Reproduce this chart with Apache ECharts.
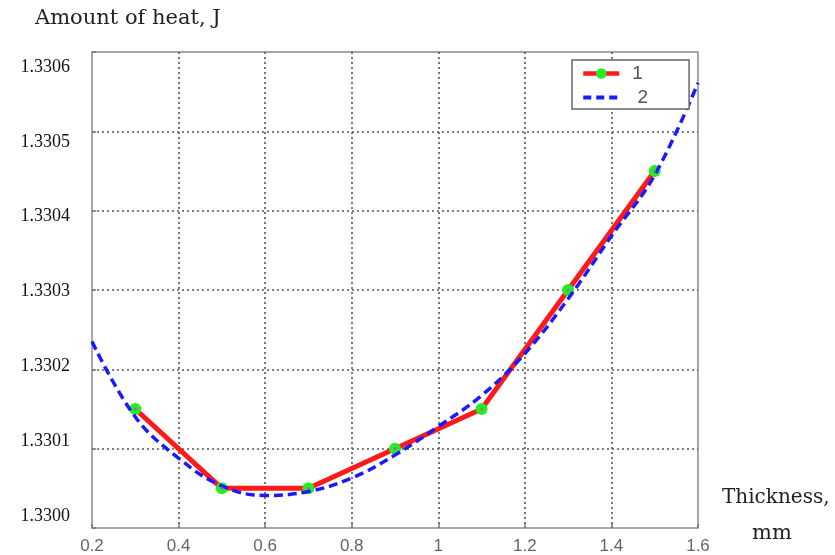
<!DOCTYPE html>
<html>
<head>
<meta charset="utf-8">
<script src="https://cdn.jsdelivr.net/npm/echarts@6/dist/echarts.min.js"></script>
<style>
  html, body { margin: 0; padding: 0; background: #fff; }
  #chart { width: 835px; height: 555px; }
</style>
</head>
<body>
<div id="chart"></div>
<script>
// measured points (series 1)
var thickness1 = [0.3, 0.5, 0.7, 0.9, 1.1, 1.3, 1.5];
var heat1 = [1.33015, 1.33005, 1.33005, 1.3301, 1.33015, 1.3303, 1.33045];

// fitted curve (series 2)
var thickness2 = [0.2, 0.3, 0.4, 0.5, 0.6, 0.7, 0.8, 0.9, 1.0, 1.1, 1.2, 1.3, 1.4, 1.5, 1.6];
var heat2 = [1.330235, 1.33014, 1.330088, 1.330053, 1.330041, 1.330046, 1.330063, 1.330092,
             1.330128, 1.330167, 1.33022, 1.330289, 1.330368, 1.330445, 1.330561];

// y tick labels
var yTicks = [1.3300, 1.3301, 1.3302, 1.3303, 1.3304, 1.3305, 1.3306];

var seriesNames = ['1', ' 2'];

function pairs(xs, ys) {
    var out = [];
    for (var i = 0; i < xs.length; i++) out.push([xs[i], ys[i]]);
    return out;
}

var gridLine = { show: true, showMinLine: false, showMaxLine: false,
                 lineStyle: { color: '#555', type: [2, 3], width: 1.6 } };
var tick = { show: true, inside: true, length: 4, lineStyle: { color: '#777', width: 1.5 } };

var myChart = echarts.init(document.getElementById('chart'));
myChart.setOption({
    backgroundColor: '#ffffff',
    animation: false,
    grid: {
        left: 92, right: 137, top: 52, bottom: 25,
        show: true,
        borderColor: '#8a8a8a',
        borderWidth: 1.5
    },
    legend: {
        orient: 'vertical',
        left: 572,
        top: 60,
        data: [
            { name: seriesNames[0], lineStyle: { width: 4.5 } },
            { name: seriesNames[1], itemStyle: { opacity: 0 }, lineStyle: { width: 4, type: [8, 5] } }
        ],
        itemWidth: 36,
        itemHeight: 13,
        itemGap: 5,
        padding: [4, 41, 2, 9],
        backgroundColor: '#ffffff',
        borderColor: '#666',
        borderWidth: 1.5,
        textStyle: { fontFamily: 'Liberation Sans', fontSize: 19, color: '#555', padding: [0, 0, 0, 8] }
    },
    xAxis: {
        type: 'value',
        min: 0.2,
        max: 1.6,
        interval: 0.2,
        axisLine: { show: false },
        axisTick: tick,
        splitLine: gridLine,
        axisLabel: {
            fontFamily: 'Liberation Sans',
            fontSize: 17,
            color: '#666',
            margin: 10,
            formatter: function (v) { return String(Math.round(v * 10) / 10); }
        }
    },
    yAxis: [
        {
            type: 'value',
            min: 1.3300,
            max: 1.3306,
            interval: 0.0001,
            axisLine: { show: false },
            axisTick: tick,
            splitLine: gridLine,
            axisLabel: { show: false }
        },
        {
            // label-only axis: the labels in the picture sit slightly off the grid lines
            type: 'value',
            position: 'left',
            min: 1.329984,
            max: 1.33062,
            axisLine: { show: false },
            axisTick: { show: false },
            splitLine: { show: false },
            axisLabel: {
                customValues: yTicks,
                fontFamily: 'Liberation Serif',
                fontSize: 18,
                color: '#111',
                margin: 22,
                formatter: function (v) { return v.toFixed(4); }
            }
        }
    ],
    graphic: [
        {
            type: 'text', left: 35, top: 8,
            style: { text: 'Amount of heat, J', font: '21px "DejaVu Serif"', fill: '#222' }
        },
        {
            type: 'text', left: 722, top: 488,
            style: { text: 'Thickness,', font: '20px "DejaVu Serif"', fill: '#222' }
        },
        {
            type: 'text', left: 752, top: 523,
            style: { text: 'mm', font: '21px "DejaVu Serif"', fill: '#222' }
        }
    ],
    series: [
        {
            name: seriesNames[0],
            type: 'line',
            data: pairs(thickness1, heat1),
            lineStyle: { color: '#ff1a1a', width: 5 },
            itemStyle: { color: '#22ee22' },
            symbol: 'circle',
            symbolSize: 12,
            z: 2
        },
        {
            name: seriesNames[1],
            type: 'line',
            data: pairs(thickness2, heat2),
            smooth: 0.4,
            showSymbol: false,
            symbol: 'none',
            lineStyle: { color: '#1a1aff', width: 3.5, type: [9, 5] },
            itemStyle: { color: '#1a1aff' },
            z: 3
        },
        {
            name: 'centre',
            type: 'scatter',
            data: pairs(thickness1, heat1),
            symbolSize: 3,
            itemStyle: { color: '#cc44cc' },
            silent: true,
            z: 4
        }
    ]
});
</script>
</body>
</html>
